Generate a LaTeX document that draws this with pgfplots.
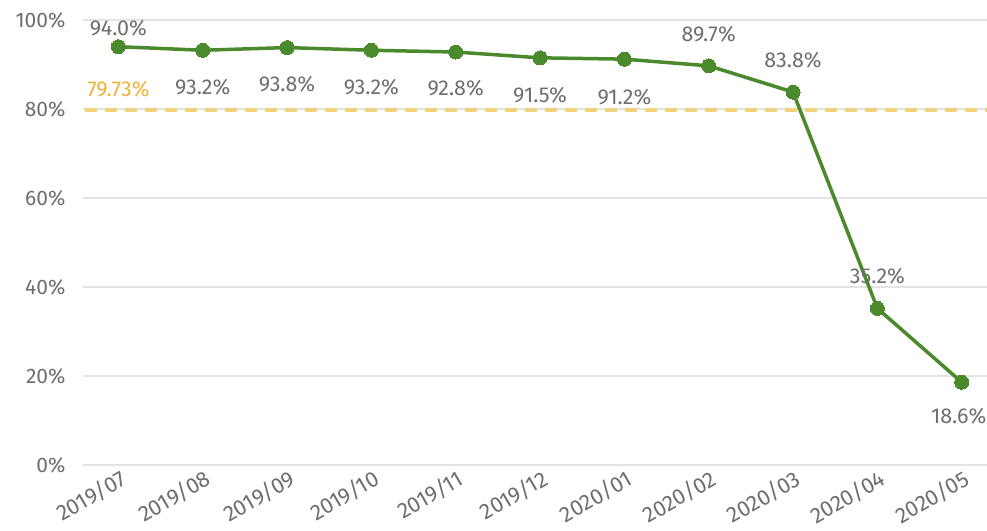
\documentclass[border=0pt]{standalone}
\usepackage{pgfplots}
\pgfplotsset{compat=1.18}
\usepackage{fontspec}
\setmainfont{Fira Sans}
\definecolor{txtgray}{HTML}{6E6E6E}
\definecolor{linegreen}{HTML}{4A8A2C}
\definecolor{dashyellow}{HTML}{F2D27A}
\definecolor{lblyellow}{HTML}{EEB33A}
\definecolor{gridgray}{HTML}{E3E3E3}
\begin{document}
\begin{tikzpicture}
\begin{axis}[
  scale only axis,
  width=904pt, height=445pt,
  xmin=-0.42, xmax=10.3,
  ymin=0, ymax=100,
  ytick={0,20,40,60,80,100},
  yticklabel={\pgfmathprintnumber{\tick}\%},
  /pgf/number format/assume math mode=true,
  xtick={0,...,10},
  xticklabels={2019/07,2019/08,2019/09,2019/10,2019/11,2019/12,2020/01,2020/02,2020/03,2020/04,2020/05},
  xticklabel style={rotate=30, anchor=north east, font=\fontsize{22}{22}\selectfont, text=txtgray, inner sep=1pt, yshift=-2pt},
  yticklabel style={font=\fontsize{21}{21}\selectfont, text=txtgray, xshift=-14pt},
  ymajorgrids,
  grid style={gridgray, line width=1.3pt},
  axis line style={draw=none},
  major tick length=0pt,
  clip=false,
]
\addplot[dashyellow, line width=4.5pt, dash pattern=on 12pt off 8pt, forget plot] coordinates {(-0.4,79.73) (10.3,79.73)};
\addplot[
  linegreen, line width=3.5pt, mark=*, mark size=7pt,
  mark options={fill=linegreen, draw=linegreen, line width=0pt},
  point meta=explicit,
  visualization depends on={\thisrow{dy} \as \dy},
  visualization depends on={\thisrow{dx} \as \dx},
  nodes near coords={\pgfmathprintnumber[fixed,precision=1,fixed zerofill]{\pgfplotspointmeta}\%},
  every node near coord/.append style={anchor=center, yshift=\dy pt, xshift=\dx pt, font=\fontsize{21.5}{21.5}\selectfont, text=txtgray},
] table[x=x, y=y, meta=y] {
x y dy dx
0 94.0 19 0
1 93.2 -37 0
2 93.8 -37 0
3 93.2 -37 0
4 92.8 -36 0
5 91.5 -37 0
6 91.2 -38 0
7 89.7 32 0
8 83.8 32 0
9 35.2 32 0
10 18.6 -34 -3
};
\node[font=\fontsize{21.5}{21.5}\selectfont, text=lblyellow, anchor=center] at (axis cs:0,84.5) {79.73\%};
\coordinate (bl) at (rel axis cs:0,0);
\coordinate (tr) at (rel axis cs:1,1);
\end{axis}
\pgfresetboundingbox
\path ([xshift=-83pt,yshift=-65pt]bl) rectangle ([yshift=20pt]tr);
\end{tikzpicture}
\end{document}
